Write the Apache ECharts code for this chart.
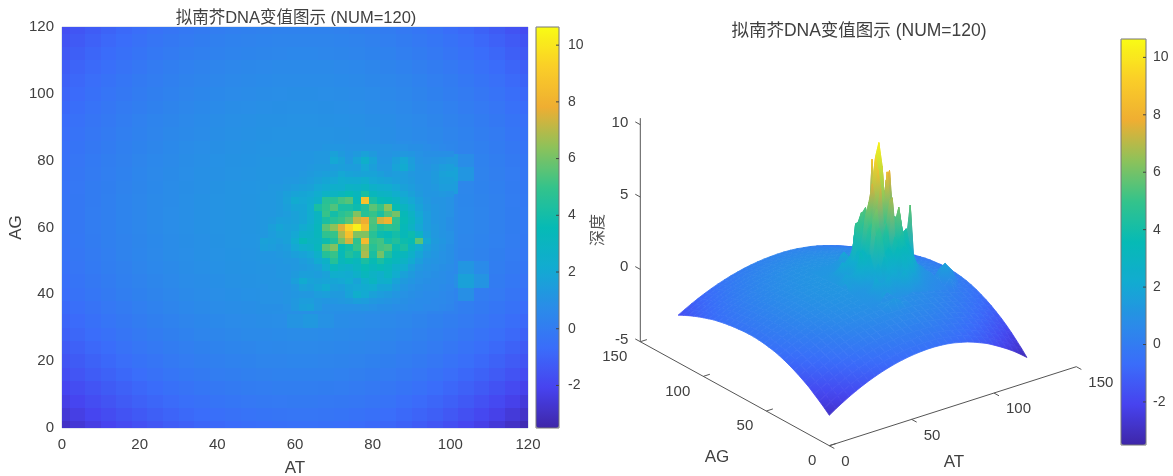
<!DOCTYPE html>
<html><head><meta charset="utf-8">
<style>html,body{margin:0;padding:0;background:#fff}#c{width:1173px;height:476px}</style>
<script src="https://cdn.jsdelivr.net/npm/echarts@6/dist/echarts.min.js"></script>
</head><body><div id="c"></div>
<script>
const titleText = '拟南芥DNA变值图示 (NUM=120)';
const mapTicks = [0,20,40,60,80,100,120];
const barTicks = [-2,0,2,4,6,8,10];
const surfPlanTicks = [0,50,100,150];
const surfDepthTicks = [-5,0,5,10];
const barMin = -3.5, barMax = 10.64;
const parula = ['#3E26A8','#4743EF','#3A6DFA','#2A8CE8','#12ABD1','#06BAB5','#34C38B','#8DC25A','#EFAE32','#FACE28','#F9FB15'];

// depth read at AT = 0,4,...,120 (columns), AG = 0,4,...,120 (rows)
const coarseStep = 4;
const coarseRows = [
[-2.9,-2.6,-2.32,-2.06,-1.82,-1.6,-1.4,-1.22,-1.06,-.92,-.8,-.7,-.62,-.56,-.52,-.5,-.5,-.53,-.58,-.66,-.77,-.89,-1.05,-1.24,-1.44,-1.69,-1.96,-2.24,-2.55,-2.9,-3.27],
[-2.58,-2.3,-2.02,-1.78,-1.55,-1.33,-1.14,-.97,-.81,-.68,-.57,-.47,-.4,-.34,-.3,-.28,-.28,-.31,-.36,-.43,-.53,-.64,-.8,-.97,-1.16,-1.39,-1.64,-1.91,-2.2,-2.53,-2.87],
[-2.29,-2.01,-1.75,-1.52,-1.29,-1.09,-.91,-.74,-.59,-.47,-.36,-.26,-.19,-.14,-.1,-.08,-.08,-.11,-.15,-.22,-.31,-.42,-.57,-.73,-.91,-1.12,-1.36,-1.61,-1.88,-2.19,-2.51],
[-2.02,-1.75,-1.5,-1.27,-1.06,-.86,-.69,-.53,-.38,-.26,-.16,-.06,0,.06,.09,.11,.11,.08,.04,-.02,-.11,-.21,-.34,-.49,-.66,-.86,-1.08,-1.32,-1.57,-1.86,-2.16],
[-1.74,-1.49,-1.25,-1.03,-.83,-.64,-.47,-.32,-.18,-.07,.04,.12,.19,.24,.27,.29,.29,.27,.23,.16,.08,-.01,-.14,-.28,-.44,-.63,-.83,-1.05,-1.29,-1.56,-1.84],
[-1.52,-1.27,-1.04,-.83,-.63,-.45,-.29,-.14,-.01,.11,.2,.29,.35,.4,.43,.45,.45,.43,.39,.33,.26,.17,.05,-.08,-.23,-.41,-.6,-.81,-1.03,-1.28,-1.55],
[-1.31,-1.08,-.85,-.65,-.46,-.28,-.12,.02,.15,.26,.35,.44,.49,.54,.57,.59,.59,.57,.53,.48,.41,.32,.21,.09,-.05,-.22,-.4,-.6,-.81,-1.05,-1.3],
[-1.12,-.89,-.67,-.48,-.29,-.12,.03,.17,.29,.4,.49,.57,.63,.67,.7,.72,.72,.7,.67,.61,.55,.47,.36,.24,.11,-.05,-.22,-.4,-.6,-.82,-1.06],
[-.95,-.73,-.52,-.32,-.15,.02,.17,.3,.43,.53,.62,.69,.75,.8,.82,1.1,1.3,1.0,.79,.74,.68,.6,.5,.39,.26,.11,-.05,-.22,-.41,-.62,-.85],
[-.8,-.59,-.38,-.19,-.02,.14,.29,.42,.54,.63,.72,.8,.85,.9,.92,.94,.94,.92,.89,.84,.79,.71,.62,.51,.39,.25,.1,-.07,-.25,-.45,-.67],
[-.67,-.45,-.25,-.07,.1,.26,.39,.52,.64,.73,.82,.89,.95,.99,1.01,1.03,1.03,1.01,.98,.94,.88,.82,.72,.62,.51,.37,.9,.07,-.1,-.29,-.5],
[-.56,-.36,-.16,.02,.18,.34,.48,.6,.72,.81,.89,.96,1.02,1.06,1.08,1.1,1.1,1.08,1.06,1.01,.96,.89,.81,.71,.6,.9,1.7,1.1,.01,-.18,-.37],
[-.49,-.28,-.09,.09,.25,.41,.54,.67,.78,.87,.95,1.03,1.08,1.12,1.14,1.16,1.16,1.14,1.12,1.08,1.02,.96,.88,.78,.68,.6,1.2,.7,.11,-.07,-.26],
[-.42,-.21,-.02,.15,.31,.46,.59,.72,.83,.92,1.0,1.07,1.12,1.16,1.18,1.2,1.2,1.18,1.16,1.12,1.07,1.0,.92,.83,.73,.6,.47,.32,.17,-.01,-.19],
[-.38,-.18,.01,.18,.34,.49,.62,.74,.85,.94,1.02,1.09,1.14,1.18,1.21,1.23,1.23,1.21,1.19,1.15,1.1,1.04,.96,.87,.76,.64,.51,.37,.22,.05,-.14],
[-.35,-.15,.04,.21,.37,.52,.65,.77,.88,.97,1.05,1.12,1.17,1.21,1.235,1.25,1.25,1.235,1.21,1.17,1.12,1.06,.98,.89,.79,.67,.54,.4,.25,.08,-.1],
[-.35,-.15,.04,.21,.37,.52,.65,.77,.88,.97,1.05,1.12,1.17,1.21,1.235,1.25,1.25,1.235,1.21,1.17,1.12,1.06,.98,.89,.79,.67,.54,.4,.25,.08,-.1],
[-.36,-.16,.03,.2,.36,.51,.64,.76,.87,.96,1.04,1.11,1.16,1.2,1.225,1.24,1.24,1.22,1.2,1.16,1.11,1.05,.97,.88,.78,.66,.53,.39,.24,.07,-.11],
[-.4,-.19,0,.17,.33,.48,.61,.73,.85,.94,1.02,1.09,1.14,1.18,1.2,1.22,1.22,1.2,1.18,1.14,1.09,1.03,.94,.85,1.1,1.5,.5,.35,.2,.03,-.16],
[-.43,-.23,-.03,.14,.3,.45,.59,.71,.82,.91,.99,1.06,1.11,1.15,1.18,1.2,1.2,1.18,1.15,1.11,1.06,1.0,.92,.82,1.4,1.8,1.2,.32,.16,-.01,-.2],
[-.49,-.28,-.09,.09,.25,.41,.54,.67,.78,.87,.95,1.03,1.08,1.12,1.14,1.16,1.16,1.14,1.12,1.08,1.02,.96,.88,.78,1.0,1.3,.8,.27,.11,-.07,-.26],
[-.55,-.35,-.15,.03,.19,.35,.49,.61,.73,.82,.9,.97,1.03,1.07,1.09,1.11,1.11,1.09,1.07,1.02,.97,.9,.82,.72,.61,.48,.34,.19,.03,-.16,-.35],
[-.63,-.42,-.22,-.04,.13,.29,.43,.55,.67,.76,.85,.92,.98,1.02,1.04,1.06,1.06,1.04,1.02,.97,.92,.85,.76,.66,.55,.41,.27,.11,-.05,-.24,-.44],
[-.71,-.5,-.29,-.11,.06,.22,.36,.49,.6,.7,.79,.86,.91,.96,.98,1.0,1.0,.98,.95,.91,.85,.78,.69,.59,.47,.33,.18,.02,-.15,-.35,-.55],
[-.83,-.61,-.4,-.22,-.04,.12,.26,.39,.52,.61,.7,.78,.83,.88,.9,.92,.92,.9,.87,.82,.76,.69,.6,.49,.37,.22,.07,-.1,-.28,-.48,-.7],
[-.95,-.73,-.52,-.32,-.15,.02,.17,.3,.43,.53,.62,.69,.75,.8,.82,.84,.84,.82,.79,.74,.68,.6,.5,.39,.26,.11,-.05,-.22,-.41,-.62,-.85],
[-1.08,-.85,-.63,-.44,-.26,-.08,.06,.2,.33,.43,.52,.6,.66,.7,.73,.75,.75,.73,.7,.65,.58,.5,.4,.28,.15,0,-.17,-.36,-.55,-.77,-1.0],
[-1.22,-.99,-.77,-.57,-.38,-.2,-.05,.09,.22,.32,.42,.5,.56,.6,.63,.65,.65,.63,.6,.54,.47,.39,.28,.16,.02,-.14,-.32,-.51,-.71,-.94,-1.19],
[-1.38,-1.14,-.91,-.71,-.52,-.34,-.18,-.04,.1,.2,.3,.38,.44,.49,.52,.54,.54,.52,.48,.43,.35,.27,.15,.03,-.12,-.29,-.48,-.68,-.89,-1.13,-1.39],
[-1.55,-1.3,-1.06,-.85,-.66,-.47,-.31,-.16,-.03,.08,.18,.27,.33,.38,.41,.43,.43,.41,.37,.31,.24,.15,.03,-.11,-.26,-.43,-.63,-.84,-1.06,-1.31,-1.58],
[-1.73,-1.48,-1.24,-1.02,-.82,-.63,-.46,-.31,-.17,-.06,.05,.13,.2,.25,.28,.3,.3,.28,.24,.17,.1,0,-.12,-.27,-.42,-.61,-.81,-1.03,-1.27,-1.54,-1.82]
];

// depth read at AT = 52,54,...,100 (columns), AG = 36,38,...,84 (rows)
const fineStep = 2, fineStartAT = 52, fineStartAG = 36;
const fineRows = [
[.9,.9,.9,1.0,1.3,1.6,1.7,1.3,1.0,1.0,1.0,1.0,1.0,1.1,1.0,.9,.9,.8,.8,.7,.7,.6,.6,.5,.4],
[1.0,1.0,1.0,1.1,1.3,1.5,1.5,1.3,1.2,1.2,1.3,1.4,1.6,1.5,1.3,1.2,1.1,1.0,.9,.8,.7,.7,.6,.6,.5],
[1.0,1.0,1.0,1.1,1.2,1.3,1.3,1.5,1.6,1.4,1.4,1.8,2.4,2.1,1.7,1.5,1.4,1.2,1.0,.9,.8,.7,.7,.6,.5],
[1.0,1.1,1.1,1.1,1.3,1.7,1.6,1.9,2.2,1.7,1.6,1.9,2.0,2.2,2.3,1.9,1.9,1.5,1.2,1.0,.9,.8,.8,.7,.6],
[1.1,1.1,1.1,1.2,1.6,2.2,1.8,1.7,1.8,1.9,2.0,2.3,1.8,2.5,3.0,2.4,2.5,1.8,1.4,1.2,1.0,.9,.8,.8,.7],
[1.1,1.1,1.2,1.2,1.4,1.6,1.6,1.5,1.7,2.4,2.3,2.2,2.6,3.2,2.8,2.5,3.0,2.3,1.7,1.4,1.1,1.0,.9,.8,.7],
[1.1,1.1,1.2,1.2,1.3,1.4,1.5,1.7,2.3,3.2,2.8,2.6,3.0,3.6,3.2,3.5,3.2,2.6,2.3,1.7,1.3,1.1,1.0,.9,.8],
[1.2,1.2,1.2,1.3,1.3,1.5,1.7,2.2,2.7,4.5,3.2,3.6,3.2,4.2,3.6,4.2,3.6,3.2,2.8,2.2,1.6,1.2,1.1,1.0,.9],
[1.2,1.2,1.3,1.4,1.6,1.8,2.0,2.6,4.5,5.0,3.4,4.4,3.9,6.8,4.2,6.0,4.4,3.4,3.2,2.6,1.9,1.4,1.2,1.0,.9],
[1.6,1.5,1.4,1.5,2.0,2.4,2.6,3.2,5.6,6.2,3.6,4.0,5.0,6.5,4.6,5.2,5.4,3.8,4.2,3.0,2.3,1.6,1.3,1.1,.9],
[1.7,1.6,1.5,1.7,2.3,3.4,2.9,3.0,3.8,4.4,6.0,7.4,4.8,8.4,5.0,5.2,4.0,4.4,3.8,3.6,5.6,2.0,1.4,1.2,1.0],
[1.3,1.5,1.7,1.7,2.0,2.6,2.7,3.2,4.8,5.0,6.8,8.6,6.2,6.2,4.6,3.8,3.6,4.0,3.4,3.8,2.8,1.7,1.3,1.1,1.0],
[1.3,1.6,1.9,1.7,1.8,2.2,2.5,3.2,5.6,6.4,7.6,9.4,10.3,8.6,5.2,4.4,4.8,4.6,3.4,2.8,2.0,1.5,1.3,1.1,.9],
[1.3,1.4,1.6,1.6,1.7,1.9,2.3,3.0,4.2,4.6,5.0,5.6,7.2,7.8,5.4,7.4,8.0,4.8,3.6,3.0,2.2,1.5,1.2,1.1,.9],
[1.3,1.3,1.4,1.5,1.7,1.9,2.3,3.0,5.0,4.0,4.6,5.0,6.2,4.6,5.0,4.2,5.4,6.0,3.4,2.8,2.0,1.5,1.2,1.1,1.0],
[1.3,1.3,1.4,1.6,1.9,1.9,2.3,4.2,4.8,5.4,4.2,4.2,3.8,4.4,5.6,5.0,6.4,3.6,3.0,2.4,1.8,1.4,1.2,1.1,1.0],
[1.3,1.3,1.4,1.7,2.2,2.0,2.2,2.6,4.6,4.6,5.2,5.5,3.4,8.7,4.2,3.6,3.4,3.0,2.4,2.0,1.6,1.3,1.1,1.1,1.0],
[1.3,1.3,1.4,1.6,1.8,1.9,2.0,2.3,2.8,2.9,3.2,3.6,3.2,4.2,3.2,2.9,2.8,2.4,2.0,1.7,1.4,1.2,1.2,1.3,1.2],
[1.2,1.3,1.3,1.4,1.5,1.6,1.7,2.0,2.2,2.5,2.4,2.8,2.7,3.0,2.6,2.4,2.3,2.0,1.7,1.5,1.3,1.2,1.3,1.5,1.5],
[1.2,1.2,1.2,1.3,1.3,1.4,1.5,1.7,1.9,2.0,2.3,2.2,2.2,2.4,2.0,1.9,1.8,1.6,1.5,1.4,1.2,1.2,1.4,1.6,1.6],
[1.2,1.2,1.2,1.2,1.2,1.3,1.4,1.5,1.6,1.7,2.0,1.8,1.7,1.8,1.8,1.6,1.4,1.5,1.5,1.3,1.2,1.2,1.4,1.7,1.8],
[1.2,1.2,1.2,1.2,1.2,1.2,1.3,1.4,1.4,1.5,1.6,1.5,1.5,2.0,1.6,1.3,1.3,1.8,2.2,1.6,1.2,1.1,1.3,1.5,1.6],
[1.2,1.2,1.2,1.2,1.2,1.2,1.2,1.3,1.3,2.0,1.7,1.3,1.8,2.5,1.8,1.2,1.2,1.6,2.0,1.5,1.1,1.0,1.1,1.2,1.3],
[1.1,1.1,1.1,1.1,1.2,1.2,1.2,1.3,1.3,1.7,1.4,1.2,1.4,1.7,1.4,1.1,1.1,1.2,1.3,1.2,1.0,.9,.9,.9,.9],
[1.1,1.1,1.1,1.1,1.1,1.1,1.1,1.1,1.2,1.2,1.2,1.1,1.1,1.1,1.1,1.1,1.1,1.0,1.0,.9,.9,.8,.7,.6,.5]
];

// ---- build marks from the tables
const font = '"Liberation Sans","Noto Sans CJK SC",sans-serif';
const ink = '#404040';
function colorAt(z){
  const t = Math.max(0, Math.min(1, (z - barMin) / (barMax - barMin))) * (parula.length - 1);
  const i = Math.min(parula.length - 2, Math.floor(t)), f = t - i;
  const p = h => [1,3,5].map(k => parseInt(h.substr(k,2),16));
  const a = p(parula[i]), b = p(parula[i+1]);
  return 'rgb(' + a.map((v,k) => Math.round(v + (b[k]-v)*f)).join(',') + ')';
}
const heatData = [];
coarseRows.forEach((r,j) => r.forEach((z,i) => heatData.push([i*coarseStep, j*coarseStep, z, coarseStep])));
fineRows.forEach((r,j) => r.forEach((z,i) => heatData.push([fineStartAT+i*fineStep, fineStartAG+j*fineStep, z, fineStep])));

function quads(rows, sx, sy, step){
  const out = [];
  for (let j = 0; j < rows.length-1; j++) for (let i = 0; i < rows[j].length-1; i++){
    const a=rows[j][i], b=rows[j][i+1], c=rows[j+1][i], d=rows[j+1][i+1];
    out.push([sx+i*step, sx+(i+1)*step, sy+j*step, sy+(j+1)*step, a, b, c, d, (a+b+c+d)/4]);
  }
  return out.sort((p,q) => (q[0]+q[2]) - (p[0]+p[2]));
}
const surfData = quads(coarseRows,0,0,coarseStep).concat(quads(fineRows,fineStartAT,fineStartAG,fineStep));

// oblique view of the AT / AG / depth box, in hidden screen-plane axis units
const view = {ox:829.3, oy:445.7, ax:1.6467, ay:-.5267, bx:-1.26, by:-.6933, zs:14.47};
function project(at, ag, z){
  return [view.ox + at*view.ax + ag*view.bx, view.oy + at*view.ay + ag*view.by - (z+5)*view.zs];
}
const planTop = surfPlanTicks[surfPlanTicks.length-1];
const boxLines = [[0,0,-5,planTop,0,-5],[0,0,-5,0,planTop,-5],[0,planTop,-5,0,planTop,10.45]];
surfPlanTicks.forEach(t => { boxLines.push([t,0,-5,t,-4,-5]); boxLines.push([0,t,-5,4,t,-5]); });
surfDepthTicks.forEach(t => boxLines.push([0,planTop,t,0,planTop+4,t]));
const boxLabels = [];
surfPlanTicks.forEach(t => {
  boxLabels.push({p:[t,0,-5], text:String(t), dx:12, dy:16, align:'left'});
  boxLabels.push({p:[0,t,-5], text:String(t), dx:-13, dy:15, align:'right'});
});
surfDepthTicks.forEach(t => boxLabels.push({p:[0,planTop,t], text:String(t), dx:-12, dy:-2, align:'right'}));

const cbar = (id,l,t,w,h,dim,si) => ({
  id, type:'continuous', min:barMin, max:barMax, seriesIndex:si, dimension:dim, calculable:false, realtime:false,
  hoverLink:false, left:l, top:t, itemWidth:w, itemHeight:h, padding:0, z:1,
  inRange:{color:parula}
});
const cbGrid = (l,t,w,h) => ({left:l, top:t, width:w, height:h, show:true, borderColor:'#777', borderWidth:1, backgroundColor:'transparent', z:3, outerBoundsMode:'none'});
const cbY = (gi,margin) => ({
  gridIndex:gi, type:'value', position:'right', min:barMin, max:barMax, splitLine:{show:false}, axisLine:{show:false},
  axisTick:{show:false},
  axisLabel:{customValues:barTicks, margin, color:ink, fontSize:14, fontFamily:font}, z:5
});
const hiddenX = gi => ({gridIndex:gi, type:'value', min:0, max:1, show:false});
const barTickSeries = gi => ({
  type:'custom', xAxisIndex:gi, yAxisIndex:gi, silent:true, data:barTicks.map(t=>[1,t]), z:6,
  renderItem(params, api){
    const a=api.coord([api.value(0), api.value(1)]);
    return {type:'line', shape:{x1:a[0]-3, y1:a[1], x2:a[0], y2:a[1]}, style:{stroke:'#444', lineWidth:1}};
  }
});

const option = {
  animation:false, backgroundColor:'#fff',
  title:[
    {text:titleText, left:291, top:5, textAlign:'center', textStyle:{fontSize:16.5, fontWeight:'normal', color:ink, fontFamily:font}},
    {text:titleText, left:854, top:17, textAlign:'center', textStyle:{fontSize:17.5, fontWeight:'normal', color:ink, fontFamily:font}}
  ],
  grid:[
    {left:62, top:27, width:466, height:401, show:true, borderColor:'#c4cfe0', borderWidth:1, backgroundColor:'transparent', outerBoundsMode:'none'},
    cbGrid(536,27,23,401),
    {left:0, top:0, width:1173, height:476, outerBoundsMode:'none'},
    cbGrid(1121,39,25,406)
  ],
  xAxis:[
    {gridIndex:0, type:'value', min:0, max:120, interval:20, splitLine:{show:false}, axisLine:{show:false}, axisTick:{show:false},
     axisLabel:{color:ink, fontSize:15, margin:9, fontFamily:font},
     name:'AT', nameLocation:'middle', nameGap:32, nameTextStyle:{color:ink, fontSize:17, fontFamily:font}},
    hiddenX(1),
    {gridIndex:2, type:'value', min:0, max:1173, show:false},
    hiddenX(3)
  ],
  yAxis:[
    {gridIndex:0, type:'value', min:0, max:120, interval:20, splitLine:{show:false}, axisLine:{show:false}, axisTick:{show:false},
     axisLabel:{color:ink, fontSize:15, margin:8, fontFamily:font},
     name:'AG', nameLocation:'middle', nameGap:35, nameTextStyle:{color:ink, fontSize:17, fontFamily:font}},
    cbY(1,9),
    {gridIndex:2, type:'value', min:0, max:476, inverse:true, show:false},
    cbY(3,7)
  ],
  visualMap:[ cbar('m0',536,27,23,401,2,0), cbar('m1',1121,39,25,406,8,1) ],
  series:[
    {type:'custom', xAxisIndex:0, yAxisIndex:0, silent:true, data:heatData, progressive:0,
     renderItem(params, api){
       const x=api.value(0), y=api.value(1), s=api.value(3)/2, c=api.visual('color');
       const a=api.coord([Math.max(x-s,0), Math.min(y+s,120)]), b=api.coord([Math.min(x+s,120), Math.max(y-s,0)]);
       const x0=Math.round(a[0]), y0=Math.round(a[1]);
       return {type:'rect', shape:{x:x0, y:y0, width:Math.round(b[0])-x0, height:Math.round(b[1])-y0}, style:{fill:c}};
     }},
    {type:'custom', xAxisIndex:2, yAxisIndex:2, silent:true, data:surfData, progressive:0,
     renderItem(params, api){
       const q=surfData[params.dataIndex];
       const pts=[project(q[0],q[2],q[4]),project(q[1],q[2],q[5]),project(q[1],q[3],q[7]),project(q[0],q[3],q[6])].map(p=>api.coord(p));
       const hi=Math.max(q[4],q[5],q[6],q[7]), lo=Math.min(q[4],q[5],q[6],q[7]);
       const fill={type:'linear',x:0,y:0,x2:0,y2:1,colorStops:[{offset:0,color:colorAt(hi)},{offset:1,color:colorAt(lo)}]};
       return {type:'polygon', shape:{points:pts}, style:{fill, stroke:fill, lineWidth:.8, lineJoin:'round'}};
     }},
    {type:'custom', xAxisIndex:2, yAxisIndex:2, silent:true, data:boxLines,
     renderItem(params, api){
       const l=boxLines[params.dataIndex];
       const a=api.coord(project(l[0],l[1],l[2])), b=api.coord(project(l[3],l[4],l[5]));
       return {type:'line', shape:{x1:a[0],y1:a[1],x2:b[0],y2:b[1]}, style:{stroke:'#555', lineWidth:1}};
     }},
    {type:'custom', xAxisIndex:2, yAxisIndex:2, silent:true, data:boxLabels.map(d=>d.p),
     renderItem(params, api){
       const d=boxLabels[params.dataIndex];
       const a=api.coord(project(d.p[0],d.p[1],d.p[2]));
       return {type:'text', x:a[0]+d.dx, y:a[1]+d.dy, style:{text:d.text, fill:ink, font:'15px '+font, textAlign:d.align, textVerticalAlign:'middle'}};
     }},
    barTickSeries(1),
    barTickSeries(3)
  ],
  graphic:[
    {type:'text', x:717, y:457, style:{text:'AG', fill:ink, font:'17px '+font, textAlign:'center', textVerticalAlign:'middle'}},
    {type:'text', x:954, y:462, style:{text:'AT', fill:ink, font:'17px '+font, textAlign:'center', textVerticalAlign:'middle'}},
    {type:'text', x:597, y:230, rotation:Math.PI/2, style:{text:'深度', fill:'#555', font:'16px "Noto Sans CJK SC",sans-serif', textAlign:'center', textVerticalAlign:'middle'}}
  ]
};
const chart = echarts.init(document.getElementById('c'), null, {renderer:'canvas'});
chart.setOption(option);
</script></body></html>
